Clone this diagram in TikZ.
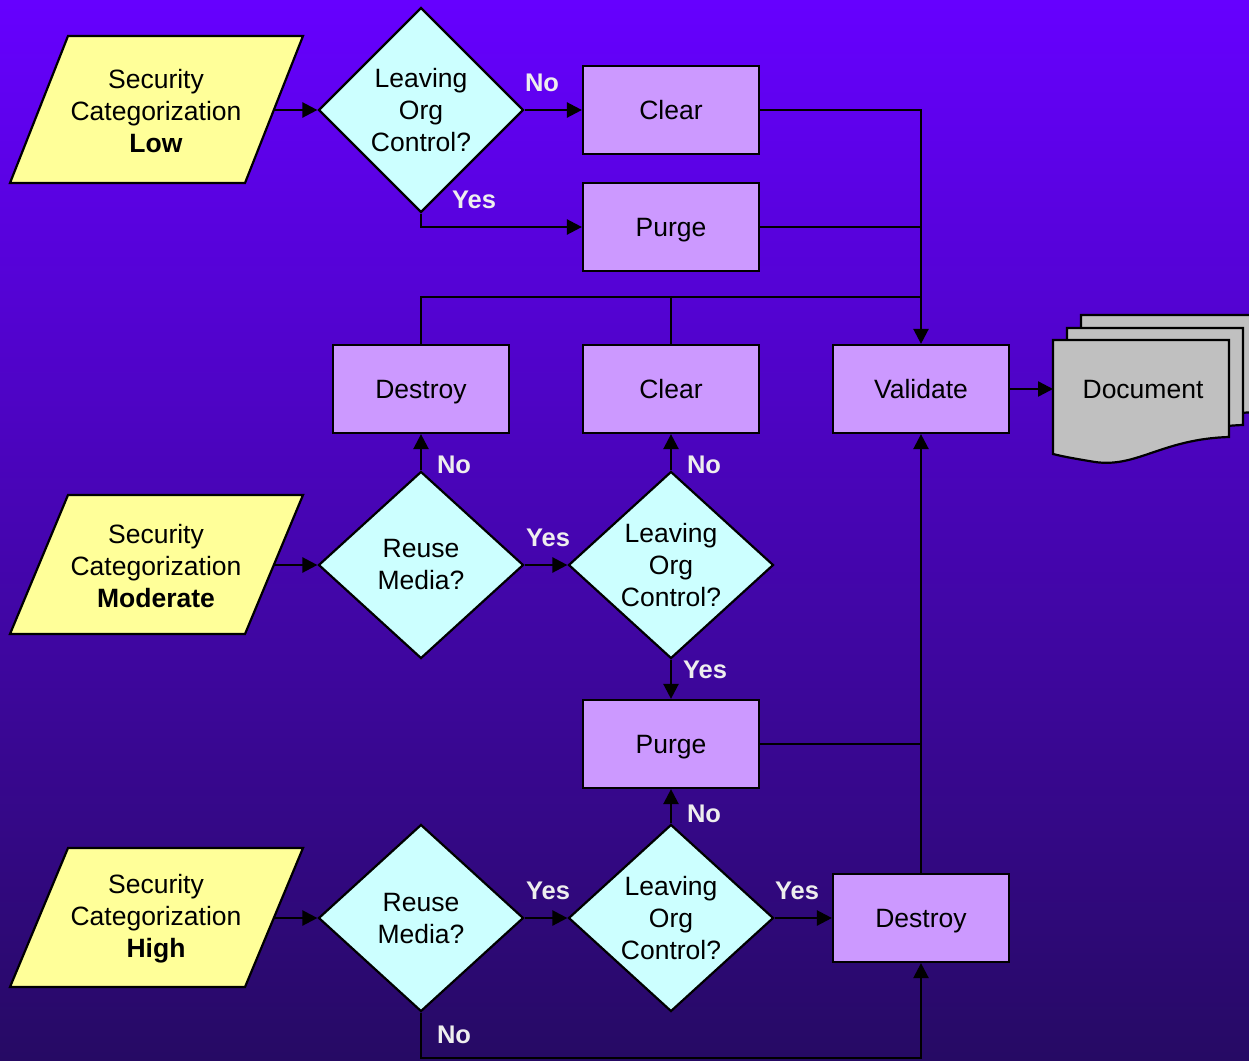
\documentclass[tikz,border=0pt]{standalone}
\usepackage{fontspec}
\setmainfont{Liberation Sans}
\usetikzlibrary{shapes.geometric,arrows.meta}
\definecolor{bgtop}{RGB}{102,0,255}
\definecolor{bgbot}{RGB}{38,10,100}
\definecolor{parafill}{RGB}{255,255,153}
\definecolor{diafill}{RGB}{204,255,255}
\definecolor{boxfill}{RGB}{204,153,255}
\definecolor{docfill}{RGB}{192,192,192}
\definecolor{lblcol}{RGB}{238,238,238}
\tikzset{
  txt/.style={align=center, font=\fontsize{26.5}{32}\selectfont, inner sep=0pt},
  parashape/.style={draw=black, line width=2.2pt, fill=parafill, line join=miter},
  dia/.style={diamond, draw=black, line width=2.2pt, fill=diafill, inner sep=0pt,
    minimum width=205pt, minimum height=187pt, align=center, font=\fontsize{26.5}{32}\selectfont},
  bigdia/.style={dia, minimum height=205pt},
  box/.style={rectangle, draw=black, line width=2.2pt, fill=boxfill, inner sep=0pt,
    minimum width=176pt, minimum height=88pt, text depth=0pt, font=\fontsize{26.5}{32}\selectfont},
  docshape/.style={draw=black, line width=2.2pt, fill=docfill},
  lbl/.style={text=lblcol, font=\bfseries\fontsize{25.5}{28}\selectfont, inner sep=0pt},
  conn/.style={line width=2.4pt, -{Triangle[length=15pt,width=15pt]}},
  plain/.style={line width=2.4pt},
}
\begin{document}
\begin{tikzpicture}[x=1pt,y=-1pt]
\shade[top color=bgtop,bottom color=bgbot] (0,0) rectangle (1249,1060);
\useasboundingbox (0,0) rectangle (1249,1060);

% parallelograms
\draw[parashape] (68,36) -- (303,36) -- (245,183) -- (10,183) -- cycle;
\node[txt] (low) at (156,111) {Security\\Categorization\\\textbf{Low}};
\coordinate (lowR) at (274,110);
\draw[parashape] (68,495) -- (303,495) -- (245,634) -- (10,634) -- cycle;
\node[txt] (mod) at (156,566) {Security\\Categorization\\\textbf{Moderate}};
\coordinate (modR) at (274,565);
\draw[parashape] (68,848) -- (303,848) -- (245,987) -- (10,987) -- cycle;
\node[txt] (high) at (156,919) {Security\\Categorization\\\textbf{High}};
\coordinate (highR) at (274,918);

% diamonds
\node[bigdia] (d1) at (421,110) {Leaving\\Org\\Control?};
\node[dia] (rm) at (421,565) {Reuse\\Media?};
\node[dia] (lm) at (671,565) {Leaving\\Org\\Control?};
\node[dia] (rh) at (421,918) {Reuse\\Media?};
\node[dia] (lh) at (671,918) {Leaving\\Org\\Control?};

% boxes
\node[box] (clear1) at (671,110) {Clear};
\node[box] (purge1) at (671,227) {Purge};
\node[box] (destroy1) at (421,389) {Destroy};
\node[box] (clear2) at (671,389) {Clear};
\node[box] (validate) at (921,389) {Validate};
\node[box] (purge2) at (671,744) {Purge};
\node[box] (destroy2) at (921,918) {Destroy};

% document (stacked)
\draw[docshape] (1081,315) -- (1257,315) -- (1257,412)
  .. controls (1190,414) and (1165,443) .. (1123,437)
  .. controls (1105,434) and (1093,432) .. (1081,429) -- cycle;
\draw[docshape] (1067,328) -- (1243,328) -- (1243,425)
  .. controls (1176,427) and (1151,456) .. (1109,450)
  .. controls (1091,447) and (1079,445) .. (1067,442) -- cycle;
\draw[docshape] (1053,340) -- (1229,340) -- (1229,437)
  .. controls (1162,439) and (1137,468) .. (1095,462)
  .. controls (1077,459) and (1065,457) .. (1053,454) -- cycle;
\node[txt, text depth=0pt] (doc) at (1143,389) {Document};
\coordinate (docL) at (1053,389);

% connectors
\draw[conn] (lowR) -- (d1.west);
\draw[conn] (modR) -- (rm.west);
\draw[conn] (highR) -- (rh.west);

\draw[conn] (d1.east) -- (clear1.west);
\draw[conn] (d1.south) |- (purge1.west);
\coordinate (j297) at (921,297);
\draw[conn] (clear1.east) -| (validate.north);
\draw[plain] (purge1.east) -- (purge1.east -| validate.north);
\draw[plain] (destroy1.north) |- (j297);
\draw[plain] (clear2.north) -- (clear2.north |- j297);

\draw[conn] (rm.north) -- (destroy1.south);
\draw[conn] (rm.east) -- (lm.west);
\draw[conn] (lm.north) -- (clear2.south);
\draw[conn] (lm.south) -- (purge2.north);
\draw[plain] (purge2.east) -- (purge2.east -| validate.south);
\draw[conn] (destroy2.north) -- (validate.south);

\draw[conn] (rh.east) -- (lh.west);
\draw[conn] (lh.north) -- (purge2.south);
\draw[conn] (lh.east) -- (destroy2.west);
\coordinate (bot) at (421,1058);
\draw[conn] (rh.south) -- (bot) -| (destroy2.south);

\draw[conn] (validate.east) -- (docL);

% labels
\node[lbl] at (542,83) {No};
\node[lbl] at (474,200) {Yes};
\node[lbl] at (454,465) {No};
\node[lbl] at (548,538) {Yes};
\node[lbl] at (704,465) {No};
\node[lbl] at (705,670) {Yes};
\node[lbl] at (548,891) {Yes};
\node[lbl] at (704,814) {No};
\node[lbl] at (797,891) {Yes};
\node[lbl] at (454,1035) {No};
\end{tikzpicture}
\end{document}
